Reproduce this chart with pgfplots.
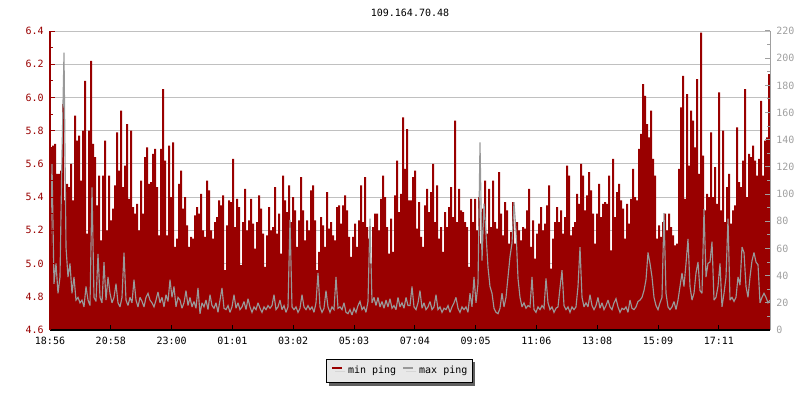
\documentclass[border=0pt]{standalone}
\usepackage{pgfplots}
\pgfplotsset{compat=1.18}
\usepackage{pgfplotstable}
\usepackage{fontspec}
\setmainfont{DejaVu Sans Mono}
\usetikzlibrary{shadows}
\definecolor{rrdred}{HTML}{990000}
\definecolor{rrdgray}{HTML}{999999}
\definecolor{gridgray}{HTML}{C0C0C0}
\definecolor{axisgray}{HTML}{A0A0A0}
\definecolor{legfill}{HTML}{E8E8E8}
\definecolor{shadowgray}{HTML}{606060}

\pgfplotstableread[row sep=\\]{y\\
5.70\\5.71\\5.72\\5.54\\5.54\\5.56\\5.96\\5.38\\5.48\\5.46\\
5.60\\5.38\\5.89\\5.74\\5.77\\5.50\\5.80\\6.10\\5.18\\5.80\\
6.22\\5.72\\5.64\\5.35\\5.53\\5.14\\5.53\\5.74\\5.20\\5.53\\
5.26\\5.33\\5.47\\5.79\\5.56\\5.92\\5.46\\5.59\\5.84\\5.39\\
5.80\\5.34\\5.30\\5.36\\5.20\\5.50\\5.30\\5.64\\5.70\\5.48\\
5.49\\5.66\\5.69\\5.46\\5.17\\5.69\\6.05\\5.62\\5.17\\5.71\\
5.40\\5.73\\5.10\\5.15\\5.48\\5.56\\5.33\\5.40\\5.23\\5.10\\
5.16\\5.15\\5.29\\5.34\\5.30\\5.42\\5.20\\5.16\\5.50\\5.44\\
5.20\\5.15\\5.25\\5.28\\5.38\\5.35\\5.41\\4.96\\5.23\\5.38\\
5.37\\5.63\\5.22\\5.39\\5.34\\4.99\\5.25\\5.45\\5.20\\5.26\\
5.39\\5.24\\5.09\\5.25\\5.41\\5.33\\5.18\\4.98\\5.17\\5.34\\
5.20\\5.22\\5.46\\5.18\\5.30\\5.06\\5.53\\5.38\\5.31\\5.47\\
5.25\\5.40\\5.32\\5.10\\5.26\\5.52\\5.32\\5.14\\5.26\\5.20\\
5.44\\5.47\\5.26\\4.96\\5.07\\5.28\\5.23\\5.10\\5.43\\5.21\\
5.25\\5.17\\5.14\\5.34\\5.35\\5.24\\5.35\\5.41\\5.32\\5.16\\
5.04\\5.16\\5.24\\5.10\\5.26\\5.47\\5.25\\5.52\\5.22\\5.15\\
5.00\\5.22\\5.30\\5.30\\5.20\\5.39\\5.53\\5.40\\5.22\\5.06\\
5.27\\5.07\\5.41\\5.62\\5.31\\5.42\\5.88\\5.57\\5.81\\5.38\\
5.38\\5.52\\5.56\\5.21\\5.37\\5.16\\5.10\\5.35\\5.45\\5.31\\
5.43\\5.60\\5.25\\5.47\\5.15\\5.22\\5.07\\5.31\\5.22\\5.34\\
5.46\\5.28\\5.86\\5.25\\5.45\\5.32\\5.31\\5.25\\5.22\\4.98\\
5.39\\5.25\\5.39\\5.20\\5.40\\5.12\\5.33\\5.50\\5.18\\5.45\\
5.22\\5.50\\5.25\\5.21\\5.55\\5.30\\5.17\\5.37\\5.32\\5.12\\
5.19\\5.37\\5.12\\5.25\\5.20\\5.14\\5.22\\5.21\\5.32\\5.45\\
5.10\\5.26\\5.03\\5.18\\5.24\\5.34\\5.20\\5.24\\5.35\\5.47\\
4.97\\5.15\\5.25\\5.34\\5.25\\5.32\\5.18\\5.28\\5.59\\5.53\\
5.17\\5.22\\5.25\\5.42\\5.36\\5.60\\5.53\\5.32\\5.41\\5.55\\
5.44\\5.30\\5.12\\5.30\\5.48\\5.28\\5.36\\5.37\\5.36\\5.53\\
5.08\\5.63\\5.28\\5.43\\5.48\\5.38\\5.33\\5.15\\5.36\\5.24\\
5.39\\5.57\\5.40\\5.38\\5.69\\5.78\\6.08\\6.01\\5.84\\5.76\\
5.92\\5.63\\5.53\\5.15\\5.23\\5.16\\5.25\\5.30\\5.20\\5.30\\
5.22\\5.17\\5.11\\5.12\\5.57\\5.94\\6.13\\5.39\\6.02\\5.59\\
5.92\\5.86\\5.70\\6.11\\5.54\\6.39\\5.65\\5.32\\5.42\\5.40\\
5.79\\5.40\\5.58\\5.36\\6.03\\5.32\\5.80\\5.25\\5.46\\5.54\\
5.24\\5.32\\5.35\\5.82\\5.49\\5.46\\5.62\\6.05\\5.40\\5.66\\
5.64\\5.71\\5.62\\5.53\\5.63\\5.98\\5.53\\5.74\\5.76\\6.14\\
5.80\\
}\minping

\pgfplotstableread[row sep=\\]{y\\
44\\122\\34\\49\\27\\39\\130\\204\\61\\39\\
49\\27\\39\\22\\24\\20\\22\\17\\32\\22\\
18\\105\\24\\21\\56\\24\\20\\50\\22\\39\\
27\\20\\24\\34\\20\\17\\24\\57\\22\\18\\
24\\20\\37\\22\\17\\24\\21\\17\\24\\27\\
22\\20\\17\\22\\28\\20\\24\\17\\26\\21\\
37\\24\\32\\17\\24\\22\\16\\20\\29\\18\\
24\\17\\21\\16\\31\\12\\20\\17\\22\\15\\
26\\18\\16\\20\\13\\22\\31\\16\\15\\18\\
13\\17\\26\\16\\20\\15\\17\\21\\15\\23\\
17\\13\\17\\15\\20\\16\\13\\17\\15\\18\\
16\\18\\26\\15\\17\\22\\15\\18\\13\\17\\
81\\17\\15\\17\\13\\16\\26\\17\\15\\18\\
15\\17\\13\\20\\42\\17\\13\\16\\29\\17\\
13\\17\\15\\39\\16\\17\\15\\20\\13\\12\\
15\\11\\16\\13\\18\\21\\15\\17\\13\\21\\
82\\20\\24\\18\\24\\17\\21\\16\\22\\17\\
23\\16\\18\\15\\24\\17\\20\\16\\24\\18\\
18\\32\\17\\15\\20\\29\\16\\20\\15\\17\\
21\\15\\17\\26\\15\\17\\13\\16\\15\\18\\
13\\17\\20\\24\\16\\13\\17\\15\\17\\13\\
27\\17\\39\\20\\34\\138\\51\\93\\71\\46\\
32\\27\\16\\13\\12\\16\\27\\17\\24\\39\\
54\\64\\94\\73\\38\\24\\17\\20\\16\\18\\
17\\39\\15\\13\\17\\15\\18\\16\\38\\20\\
15\\17\\13\\16\\17\\31\\44\\18\\15\\17\\
13\\17\\15\\17\\32\\61\\24\\17\\20\\17\\
26\\18\\15\\18\\24\\16\\20\\15\\18\\22\\
17\\15\\20\\23\\17\\13\\16\\15\\17\\13\\
22\\16\\15\\17\\21\\22\\24\\29\\37\\57\\
49\\39\\24\\18\\15\\20\\24\\86\\27\\17\\
15\\17\\21\\15\\22\\32\\42\\32\\49\\67\\
32\\22\\27\\42\\50\\29\\27\\89\\39\\49\\
50\\65\\22\\24\\32\\49\\17\\27\\39\\82\\
22\\24\\21\\24\\39\\33\\61\\57\\32\\24\\
39\\51\\57\\50\\48\\20\\24\\27\\24\\20\\
22\\
}\maxping

\begin{document}
\begin{tikzpicture}[font=\fontsize{7.5pt}{9pt}\selectfont]
\path[use as bounding box] (-37.5pt,-52.5pt) rectangle (562.5pt,247.5pt);
% axis 1: grid + min ping area + legend
\begin{axis}[
  at={(0pt,0pt)}, anchor=south west,
  width=540pt, height=224.25pt, scale only axis,
  xmin=0, xmax=720, ymin=4.6, ymax=6.4,
  axis line style={draw=none},
  xtick=\empty,
  ytick={4.6,4.8,5.0,5.2,5.4,5.6,5.8,6.0,6.2,6.4}, yticklabels={},
  major tick length=0pt,
  ymajorgrids, grid style={line width=0.75pt, draw=gridgray},
  legend columns=2,
  legend image code/.code={\draw[#1, line width=1.5pt] (0pt,2pt) -- (7.5pt,2pt);},
  legend style={at={(0.485,-0.137)}, anchor=center, draw=black, line width=0.75pt,
    fill=legfill, inner xsep=3.75pt, inner ysep=5.25pt,
    nodes={inner sep=0pt, text=black},
    /tikz/every odd column/.style={column sep=3.75pt},
    /tikz/every even column/.style={column sep=4.5pt},
    drop shadow={shadow xshift=2.25pt, shadow yshift=-2.25pt, fill=shadowgray, opacity=1, draw=none}},
]
\addplot[draw=none, fill=rrdred, const plot, forget plot]
  table[x expr=\coordindex*2, y=y] {\minping} \closedcycle;
\addlegendimage{rrdred}
\addlegendentry{min ping}
\addlegendimage{rrdgray}
\addlegendentry{max ping\hspace{12pt}}
\end{axis}
% axis 2: max ping on right axis
\begin{axis}[
  at={(0pt,0pt)}, anchor=south west,
  width=540pt, height=224.25pt, scale only axis,
  xmin=0, xmax=720, ymin=0, ymax=220,
  axis x line=none, axis y line*=right,
  ytick={0,20,40,60,80,100,120,140,160,180,200,220}, minor y tick num=1,
  tick align=inside, major tick length=3.75pt, minor tick length=2.25pt,
  y axis line style={draw=axisgray, line width=0.75pt, -},
  ytick style={draw=axisgray, line width=0.75pt},
  yticklabel style={text=axisgray, inner sep=0pt, xshift=4.5pt, anchor=west},
  /pgf/number format/assume math mode=true,
]
\addplot[rrdgray, line width=0.85pt, sharp plot, mark=none, line join=miter, miter limit=3]
  table[x expr=\coordindex*2, y=y] {\maxping};
\end{axis}
% axis 3: left and bottom axes, title
\begin{axis}[
  at={(0pt,0pt)}, anchor=south west,
  width=540pt, height=224.25pt, scale only axis,
  xmin=0, xmax=720, ymin=4.6, ymax=6.4,
  axis x line*=bottom, axis y line*=left,
  x axis line style={draw=black, line width=0.75pt, -},
  y axis line style={draw=rrdred, line width=0.75pt, -},
  xtick={0,60.8,121.6,182.4,243.2,304,364.8,425.6,486.4,547.2,608,668.8},
  xticklabels={18:56,20:58,23:00,01:01,03:02,05:03,07:04,09:05,11:06,13:08,15:09,17:11},
  ytick={4.6,4.8,5.0,5.2,5.4,5.6,5.8,6.0,6.2,6.4}, minor y tick num=1,
  tick align=inside, major tick length=3.75pt, minor tick length=2.25pt,
  xtick style={draw=black, line width=0.75pt},
  ytick style={draw=rrdred, line width=0.75pt},
  yticklabel style={text=rrdred, inner sep=0pt, xshift=-4.5pt, anchor=east,
    /pgf/number format/.cd, fixed, fixed zerofill, precision=1},
  xticklabel style={inner sep=0pt, yshift=-5.25pt, anchor=north},
  /pgf/number format/assume math mode=true,
  title={109.164.70.48},
  title style={at={(0.5,1)}, anchor=center, yshift=7.5pt, inner sep=0pt},
]
\addplot[draw=none, forget plot] coordinates {(0,5)};
\end{axis}
\end{tikzpicture}
\end{document}
